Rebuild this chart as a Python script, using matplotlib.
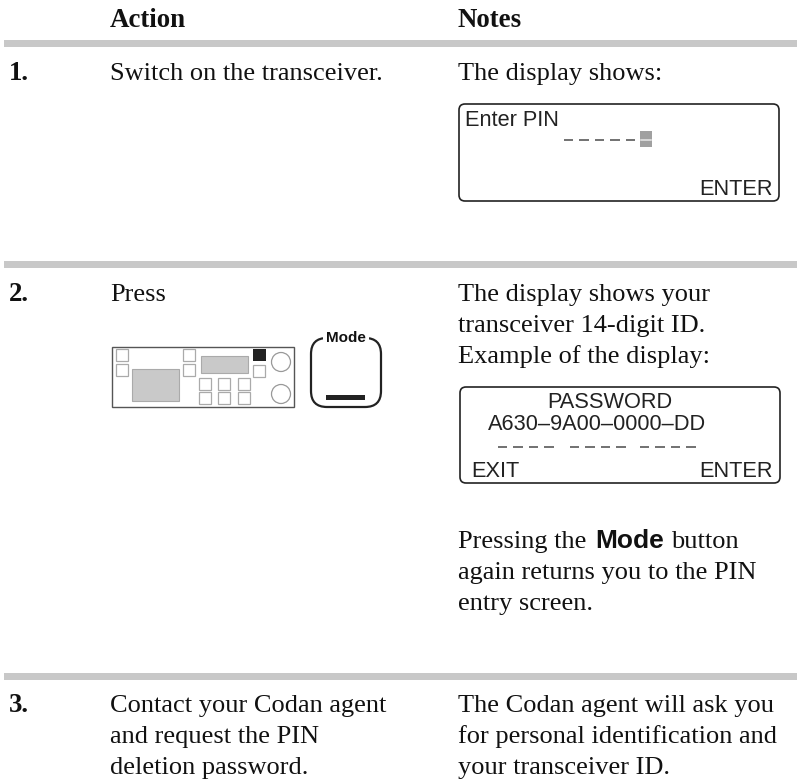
import matplotlib
matplotlib.use("Agg")
import matplotlib.pyplot as plt
from matplotlib.patches import FancyBboxPatch, Rectangle, Circle

W = 797
H = 780

serif = "Liberation Serif"
sans = "Liberation Sans"

# table text
headers = ["Action", "Notes"]
step_numbers = ["1.", "2.", "3."]
step_actions = [["Switch on the transceiver."], ["Press"],
                ["Contact your Codan agent", "and request the PIN", "deletion password."]]
rule_rows = [40, 261, 673]
step_baselines = [80, 301, 712]

note_1 = ["The display shows:"]
note_2 = ["The display shows your", "transceiver 14-digit ID.", "Example of the display:"]
note_2b = ["again returns you to the PIN", "entry screen."]
note_3 = ["The Codan agent will ask you", "for personal identification and", "your transceiver ID."]

fig = plt.figure(figsize=(W / 100, H / 100), dpi=100)
ax = fig.add_axes([0, 0, 1, 1])
ax.set_xlim(0, W)
ax.set_ylim(H, 0)
ax.axis("off")


def body(x, y, lines, weight="normal", size=19):
    for i, s in enumerate(lines):
        ax.text(x, y + i * 31.2, s, family=serif, fontsize=size, weight=weight, color="#111111",
                va="baseline", ha="left")


def rbox(x0, y0, x1, y1, r=6, lw=1.2, ec="#222222", fc="none"):
    ax.add_patch(FancyBboxPatch((x0 + r, y0 + r), x1 - x0 - 2 * r, y1 - y0 - 2 * r,
                                boxstyle="round,pad=%d,rounding_size=%d" % (r, r),
                                ec=ec, fc=fc, lw=lw))


def lcd(x, y, s, ha="left"):
    ax.text(x, y, s, family=sans, fontsize=15.7, color="#222222", va="baseline", ha=ha)


def dashes(x0, y, n, step=15.5, ln=9.5):
    for i in range(n):
        ax.plot([x0 + i * step, x0 + i * step + ln], [y, y], color="#666666", lw=1.3,
                solid_capstyle="butt")


# grey rules
for y in rule_rows:
    ax.add_patch(Rectangle((4, y), W - 4, 7, fc="#c8c8c8", ec="none"))

body(110, 27, [headers[0]], "bold", 19.4)
body(458, 27, [headers[1]], "bold", 19.4)

for num, act, y in zip(step_numbers, step_actions, step_baselines):
    body(9, y, [num], "bold", 19.4)
    body(110, y, act)

body(458, 80, note_1)
body(458, 301, note_2)

# first display
rbox(459, 104, 779, 201)
lcd(465, 126, "Enter PIN")
dashes(564, 140, 5)
ax.add_patch(Rectangle((640, 131), 12, 16, fc="#a0a0a0", ec="none"))
ax.plot([641, 651], [140, 140], color="#e8e8e8", lw=1.1)
lcd(773, 195, "ENTER", ha="right")

# second display
rbox(460, 387, 780, 483)
lcd(609.5, 408, "PASSWORD", ha="center")
lcd(488, 430, "A630\u20139A00\u20130000\u2013DD")
dashes(498, 447, 4)
dashes(570, 447, 4)
dashes(640, 447, 4)
lcd(471, 477, "EXIT")
lcd(773, 477, "ENTER", ha="right")

# transceiver front panel
ax.add_patch(Rectangle((112, 347), 182, 60, fc="white", ec="#555555", lw=1))
for x, y in [(116, 349), (116, 364), (183, 349), (183, 364), (253, 365),
             (199, 378), (218, 378), (238, 378), (199, 392), (218, 392), (238, 392)]:
    ax.add_patch(Rectangle((x, y), 12, 12, fc="white", ec="#aaaaaa", lw=0.9))
ax.add_patch(Rectangle((253, 349), 13, 12, fc="#222222", ec="none"))
ax.add_patch(Rectangle((201, 356), 47, 17, fc="#c9c9c9", ec="#aaaaaa", lw=0.8))
ax.add_patch(Rectangle((132, 369), 47, 32, fc="#c9c9c9", ec="#aaaaaa", lw=0.8))
ax.add_patch(Circle((281, 362), 9.5, fc="white", ec="#999999", lw=0.9))
ax.add_patch(Circle((281, 394), 9.5, fc="white", ec="#999999", lw=0.9))

# Mode key
rbox(311, 338, 381, 407, r=16, lw=1.6, ec="#222222", fc="white")
ax.add_patch(Rectangle((323, 332), 46, 12, fc="white", ec="none"))
ax.text(346, 338, "Mode", family=sans, fontsize=11, weight="bold", color="#111111",
        ha="center", va="center")
ax.add_patch(Rectangle((326, 395), 39, 5, fc="#222222", ec="none"))

# pressing note
body(458, 548, ["Pressing the"])
ax.text(595, 548, "Mode", family=sans, fontsize=19, weight="bold", color="#111111",
        va="baseline", ha="left")
body(671, 548, ["button"])
body(458, 579, note_2b)
body(458, 712, note_3)

fig.savefig("out.png", dpi=100)
